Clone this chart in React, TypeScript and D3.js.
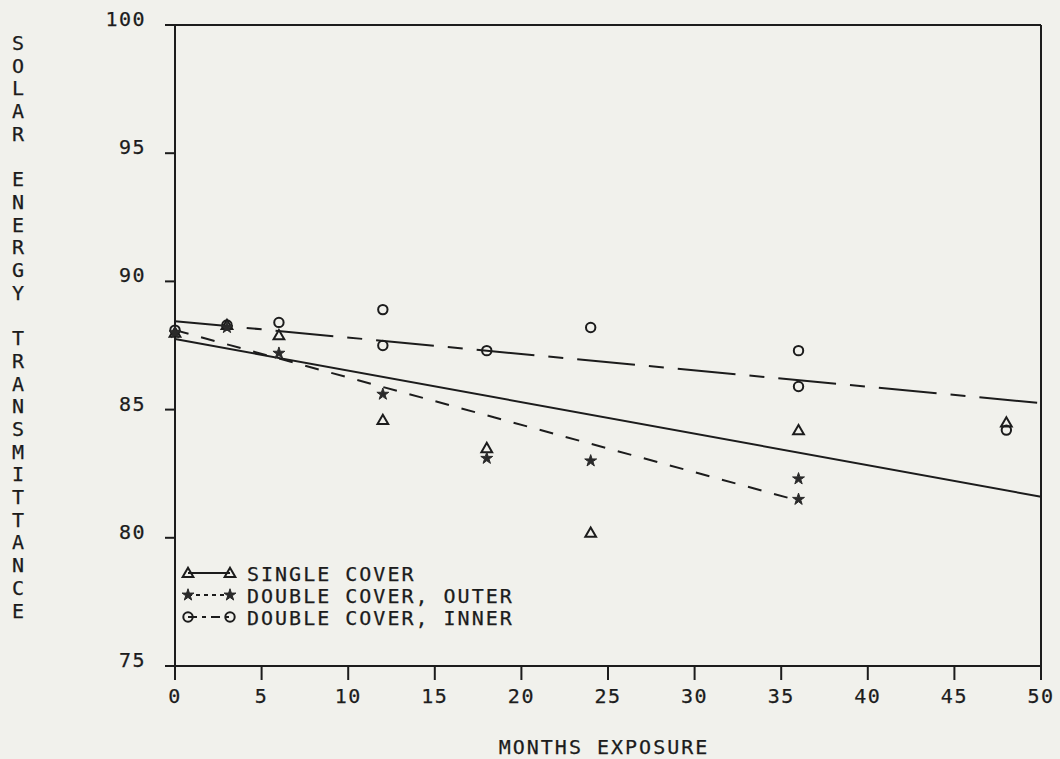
import React from "react";
import * as d3 from "d3";

const W = 1060;
const H = 759;
const margin = { top: 25, right: 19, bottom: 93, left: 175 };

const singleX = [0, 3, 6, 12, 18, 24, 36, 48];
const singleY = [88.0, 88.3, 87.9, 84.6, 83.5, 80.2, 84.2, 84.5];
const outerX = [0, 3, 6, 12, 18, 24, 36, 36];
const outerY = [88.0, 88.2, 87.2, 85.6, 83.1, 83.0, 82.3, 81.5];
const innerX = [0, 3, 6, 12, 12, 18, 24, 36, 36, 48];
const innerY = [88.1, 88.3, 88.4, 88.9, 87.5, 87.3, 88.2, 87.3, 85.9, 84.2];

// fitted lines (end points)
const singleFitX = [0, 50];
const singleFitY = [87.75, 81.6];
const outerFitX = [0, 36];
const outerFitY = [88.1, 81.45];
const innerFitX = [0, 50];
const innerFitY = [88.45, 85.25];

const xTicks = [0, 5, 10, 15, 20, 25, 30, 35, 40, 45, 50];
const yTicks = [75, 80, 85, 90, 95, 100];
const legendLabels = ["SINGLE COVER", "DOUBLE COVER, OUTER", "DOUBLE COVER, INNER"];
const yTitle = "SOLAR ENERGY TRANSMITTANCE";
const xTitle = "MONTHS EXPOSURE";

const ink = "#1c1c1c";
const font = "'DejaVu Sans Mono', monospace";

const zip = (xs: number[], ys: number[]) => xs.map((x, i) => [x, ys[i]] as [number, number]);

export default function App() {
  const x = d3.scaleLinear().domain([0, 50]).range([margin.left, W - margin.right]);
  const y = d3.scaleLinear().domain([75, 100]).range([H - margin.bottom, margin.top]);
  const line = d3.line<[number, number]>().x((d) => x(d[0])).y((d) => y(d[1]));

  const tri = d3.symbol().type(d3.symbolTriangle).size(50)()!;
  const star = d3.symbol().type(d3.symbolStar).size(44)()!;

  const x0 = x(0), x1 = x(50), y0 = y(75), y1 = y(100);

  const marker = (kind: string, cx: number, cy: number, key: string) => {
    if (kind === "tri")
      return <path key={key} d={tri} transform={`translate(${cx},${cy + 1})`} fill="none" stroke={ink} strokeWidth={2} />;
    if (kind === "star")
      return <path key={key} d={star} transform={`translate(${cx},${cy})`} fill="#2a2a2a" stroke="#2a2a2a" strokeWidth={1} />;
    return <circle key={key} cx={cx} cy={cy} r={4.7} fill="none" stroke={ink} strokeWidth={2} />;
  };

  const legend = [
    { kind: "tri", dash: "none", label: legendLabels[0] },
    { kind: "star", dash: "4,4", label: legendLabels[1] },
    { kind: "circ", dash: "9,5,4,5", label: legendLabels[2] },
  ];

  const txt = { fontFamily: font, fontSize: 20, fill: ink, stroke: ink, strokeWidth: 0.25 };

  return (
    <svg width={W} height={H} style={{ position: "absolute", left: 0, top: 0, background: "#f1f1ec" }}>
      <rect width={W} height={H} fill="#f1f1ec" />

      {/* frame */}
      <g stroke={ink} strokeWidth={2} fill="none">
        <line x1={x0} y1={y1} x2={x1} y2={y1} />
        <line x1={x1} y1={y1} x2={x1} y2={y0} />
        <line x1={x0} y1={y1} x2={x0} y2={y0 + 14} />
        <line x1={x0} y1={y0} x2={x1} y2={y0} />
      </g>

      {/* y axis */}
      {yTicks.map((t) => (
        <g key={`y${t}`}>
          <line x1={x0 - 10} x2={x0} y1={y(t)} y2={y(t)} stroke={ink} strokeWidth={2} />
          <text x={146} y={y(t) + 1} textAnchor="end" letterSpacing={1.5} {...txt}>
            {t}
          </text>
        </g>
      ))}

      {/* x axis */}
      {xTicks.map((t) => (
        <g key={`x${t}`}>
          <line x1={x(t)} x2={x(t)} y1={y0} y2={y0 + 14} stroke={ink} strokeWidth={2} />
          <text x={x(t)} y={703} textAnchor="middle" letterSpacing={1.5} {...txt}>
            {t}
          </text>
        </g>
      ))}

      <text x={604} y={754} textAnchor="middle" letterSpacing={2} {...txt}>
        {xTitle}
      </text>

      {yTitle.split("").map((c, i) => (
        <text key={`t${i}`} x={18} y={43 + i * 22.7 + 7} textAnchor="middle" {...txt}>
          {c}
        </text>
      ))}

      {/* fitted lines */}
      <path d={line(zip(singleFitX, singleFitY))!} stroke={ink} strokeWidth={2} fill="none" />
      <path d={line(zip(outerFitX, outerFitY))!} stroke={ink} strokeWidth={2} fill="none" strokeDasharray="14,13" />
      <path d={line(zip(innerFitX, innerFitY))!} stroke={ink} strokeWidth={2} fill="none" strokeDasharray="58,14,15,14" />

      {/* points */}
      {zip(singleX, singleY).map((d, i) => marker("tri", x(d[0]), y(d[1]), `s${i}`))}
      {zip(innerX, innerY).map((d, i) => marker("circ", x(d[0]), y(d[1]), `i${i}`))}
      {zip(outerX, outerY).map((d, i) => marker("star", x(d[0]), y(d[1]), `o${i}`))}

      {/* legend */}
      {legend.map((l, i) => {
        const ly = 573 + i * 22;
        return (
          <g key={`l${i}`}>
            <line x1={188} x2={230} y1={ly} y2={ly} stroke={ink} strokeWidth={1.8} strokeDasharray={l.dash} />
            {marker(l.kind, 188, ly, `la${i}`)}
            {marker(l.kind, 230, ly, `lb${i}`)}
            <text x={247} y={ly + 7.5} letterSpacing={2} {...txt}>
              {l.label}
            </text>
          </g>
        );
      })}
    </svg>
  );
}
